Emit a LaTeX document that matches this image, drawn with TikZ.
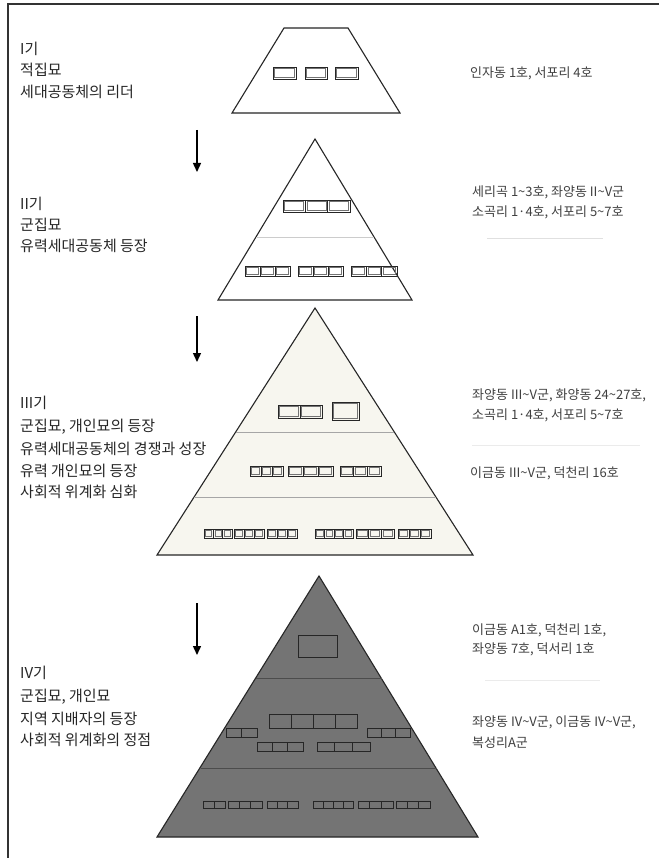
\documentclass[tikz,border=0pt]{standalone}
\usepackage{fontspec}
\setmainfont{Noto Sans CJK KR}
\usetikzlibrary{arrows.meta}
\definecolor{creamfill}{HTML}{F7F6EF}
\definecolor{darkfill}{HTML}{747474}
\newcommand{\tl}{\textasciitilde}
\newcommand{\grp}[5]{%
  \pgfmathsetmacro{\gw}{(#3-#1)/#5}%
  \foreach \k in {1,...,#5}{%
    \pgfmathsetmacro{\ga}{#1+(\k-1)*\gw}%
    \pgfmathsetmacro{\gb}{#1+\k*\gw}%
    \draw[cellbox] (\ga,#2) rectangle (\gb,#4);
    \draw[innerbox] (\ga+1.6,#2+1.6) rectangle (\gb-1.6,#4-1.6);
  }}
\tikzset{
  cellbox/.style={draw=black!85, line width=0.9pt},
  innerbox/.style={draw=black!55, line width=0.5pt},
  shapeline/.style={draw=black!85, line width=1.1pt},
  sep/.style={line width=0.8pt},
  lefttxt/.style={anchor=west, inner sep=0pt, text=black!85, font=\fontsize{15}{17}\selectfont},
  righttxt/.style={anchor=west, inner sep=0pt, text=black!75, font=\fontsize{13}{15}\selectfont},
  downarrow/.style={draw=black, line width=1.4pt, -{Triangle[length=9pt,width=8pt]}}
}
\begin{document}
\begin{tikzpicture}[x=1pt,y=-1pt]
\useasboundingbox (0,0) rectangle (659,858);
\fill[white] (0,0) rectangle (659,858);
% frame
\draw[black!80, line width=1.2pt] (8,858) -- (8,4) -- (659,4);

% ---------- stage I : trapezoid ----------
\draw[shapeline, fill=white] (284,28) -- (348,28) -- (400,113) -- (232,113) -- cycle;
\grp{273}{67}{296}{79}{1}
\grp{305}{67}{327}{79}{1}
\grp{335}{67}{358}{79}{1}

% ---------- stage II : triangle ----------
\draw[shapeline, fill=white] (315,139) -- (412,300) -- (218,300) -- cycle;
\draw[sep, black!20] (256,237) -- (374,237);
\grp{283}{200}{350}{212}{3}
\grp{245}{266}{290}{276}{3}
\grp{298}{266}{343}{276}{3}
\grp{351}{266}{397}{276}{3}

% ---------- stage III : triangle ----------
\draw[shapeline, fill=creamfill] (315,308) -- (473,555) -- (157,555) -- cycle;
\draw[sep, black!35] (236,432) -- (394,432);
\draw[sep, black!35] (194,497) -- (436,497);
\grp{278}{405}{322}{418}{2}
\grp{332}{402}{359}{420}{1}
\grp{250}{466}{283}{476}{3}
\grp{288}{466}{333}{476}{3}
\grp{340}{466}{381}{476}{3}
\grp{204}{529}{232}{538}{3}
\grp{234}{529}{264}{538}{3}
\grp{267}{529}{297}{538}{3}
\grp{315}{529}{353}{538}{4}
\grp{356}{529}{394}{538}{3}
\grp{398}{529}{431}{538}{3}

% ---------- stage IV : dark triangle ----------
\draw[shapeline, fill=darkfill] (319,576) -- (478,837) -- (157,837) -- cycle;
\draw[sep, black!70] (256,678) -- (382,678);
\draw[sep, black!70] (201,768) -- (437,768);
\grp{298}{635}{337}{657}{1}
\grp{269}{714}{357}{728}{4}
\grp{226}{728}{257}{737}{2}
\grp{367}{728}{410}{737}{3}
\grp{257}{742}{303}{751}{3}
\grp{317}{742}{370}{751}{3}
\grp{203}{801}{225}{808}{2}
\grp{228}{801}{262}{808}{3}
\grp{267}{801}{298}{808}{3}
\grp{313}{801}{353}{808}{4}
\grp{358}{801}{393}{808}{3}
\grp{396}{801}{430}{808}{3}

% ---------- arrows ----------
\coordinate (a1s) at (197,130); \coordinate (a1e) at (197,172);
\coordinate (a2s) at (197,316); \coordinate (a2e) at (197,362);
\coordinate (a3s) at (197,603); \coordinate (a3e) at (197,655);
\draw[downarrow] (a1s) -- (a1e);
\draw[downarrow] (a2s) -- (a2e);
\draw[downarrow] (a3s) -- (a3e);

% ---------- left texts ----------
\node[lefttxt] (t1a) at (20,49) {I기};
\node[lefttxt] (t1b) at (20,70) {적집묘};
\node[lefttxt] (t1c) at (20,92) {세대공동체의 리더};

\node[lefttxt] (t2a) at (20,204) {II기};
\node[lefttxt] (t2b) at (20,225) {군집묘};
\node[lefttxt] (t2c) at (20,246) {유력세대공동체 등장};

\node[lefttxt] (t3a) at (20,403) {III기};
\node[lefttxt] (t3b) at (20,427) {군집묘, 개인묘의 등장};
\node[lefttxt] (t3c) at (20,449) {유력세대공동체의 경쟁과 성장};
\node[lefttxt] (t3d) at (20,471) {유력 개인묘의 등장};
\node[lefttxt] (t3e) at (20,492) {사회적 위계화 심화};

\node[lefttxt] (t4a) at (20,673) {IV기};
\node[lefttxt] (t4b) at (20,697) {군집묘, 개인묘};
\node[lefttxt] (t4c) at (20,719) {지역 지배자의 등장};
\node[lefttxt] (t4d) at (20,740) {사회적 위계화의 정점};

% ---------- right texts ----------
\node[righttxt] (r1) at (470,73) {인자동 1호, 서포리 4호};
\node[righttxt] (r2a) at (472,192) {세리곡 1\tl3호, 좌양동 II\tl V군};
\node[righttxt] (r2b) at (472,212) {소곡리 1·4호, 서포리 5\tl7호};
\draw[black!12, line width=0.8pt] (487,238) -- (603,238);
\node[righttxt] (r3a) at (472,395) {좌양동 III\tl V군, 화양동 24\tl27호,};
\node[righttxt] (r3b) at (472,415) {소곡리 1·4호, 서포리 5\tl7호};
\draw[black!8, line width=0.8pt] (472,445) -- (640,445);
\node[righttxt] (r3c) at (470,473) {이금동 III\tl V군, 덕천리 16호};
\node[righttxt] (r4a) at (472,630) {이금동 A1호, 덕천리 1호,};
\node[righttxt] (r4b) at (472,649) {좌양동 7호, 덕서리 1호};
\draw[black!8, line width=0.8pt] (485,680) -- (600,680);
\node[righttxt] (r4c) at (472,722) {좌양동 IV\tl V군, 이금동 IV\tl V군,};
\node[righttxt] (r4d) at (472,743) {복성리A군};
\end{tikzpicture}
\end{document}
